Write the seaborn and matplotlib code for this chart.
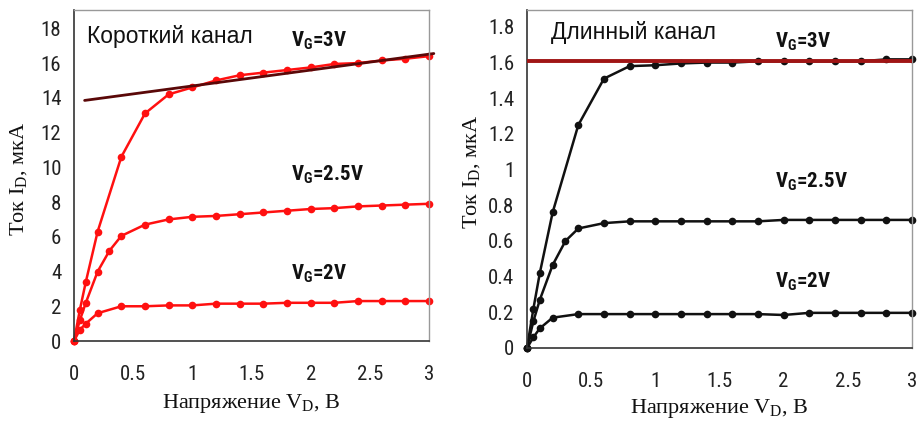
import matplotlib
matplotlib.use("Agg")
import matplotlib.pyplot as plt
import seaborn as sns
from matplotlib import font_manager

# Short channel data (x, I_D in uA)
vd_short_3 = [0, 0.05, 0.1, 0.2, 0.4, 0.6, 0.8, 1.0, 1.2, 1.4, 1.6, 1.8, 2.0, 2.2, 2.4, 2.6, 2.8, 3.0]
id_short_3 = [0, 1.8, 3.4, 6.3, 10.6, 13.1, 14.2, 14.6, 15.0, 15.3, 15.45, 15.6, 15.75, 15.95, 16.0, 16.15, 16.25, 16.4]
vd_short_25 = [0, 0.05, 0.1, 0.2, 0.3, 0.4, 0.6, 0.8, 1.0, 1.2, 1.4, 1.6, 1.8, 2.0, 2.2, 2.4, 2.6, 2.8, 3.0]
id_short_25 = [0, 1.2, 2.2, 4.0, 5.2, 6.05, 6.7, 7.0, 7.15, 7.2, 7.3, 7.4, 7.5, 7.6, 7.65, 7.75, 7.8, 7.85, 7.9]
vd_short_2 = [0, 0.05, 0.1, 0.2, 0.4, 0.6, 0.8, 1.0, 1.2, 1.4, 1.6, 1.8, 2.0, 2.2, 2.4, 2.6, 2.8, 3.0]
id_short_2 = [0, 0.65, 1.0, 1.6, 2.0, 2.0, 2.05, 2.05, 2.15, 2.15, 2.15, 2.2, 2.2, 2.2, 2.3, 2.3, 2.3, 2.3]
fit_short_x = [0.09, 3.04]
fit_short_y = [13.85, 16.55]

# Long channel data
vd_long_3 = [0, 0.05, 0.1, 0.2, 0.4, 0.6, 0.8, 1.0, 1.2, 1.4, 1.6, 1.8, 2.0, 2.2, 2.4, 2.6, 2.8, 3.0]
id_long_3 = [0, 0.22, 0.42, 0.76, 1.25, 1.51, 1.58, 1.585, 1.595, 1.6, 1.6, 1.607, 1.607, 1.607, 1.607, 1.607, 1.618, 1.618]
vd_long_25 = [0, 0.05, 0.1, 0.2, 0.3, 0.4, 0.6, 0.8, 1.0, 1.2, 1.4, 1.6, 1.8, 2.0, 2.2, 2.4, 2.6, 2.8, 3.0]
id_long_25 = [0, 0.15, 0.27, 0.465, 0.6, 0.67, 0.7, 0.71, 0.71, 0.71, 0.71, 0.71, 0.71, 0.718, 0.718, 0.718, 0.718, 0.718, 0.718]
vd_long_2 = [0, 0.05, 0.1, 0.2, 0.4, 0.6, 0.8, 1.0, 1.2, 1.4, 1.6, 1.8, 2.0, 2.2, 2.4, 2.6, 2.8, 3.0]
id_long_2 = [0, 0.06, 0.11, 0.17, 0.19, 0.19, 0.19, 0.19, 0.19, 0.19, 0.19, 0.19, 0.185, 0.197, 0.197, 0.197, 0.197, 0.197]
fit_long_x = [0, 3.0]
fit_long_y = [1.607, 1.607]

x_ticks = [0, 0.5, 1, 1.5, 2, 2.5, 3]
x_tick_labels = ["0", "0.5", "1", "1.5", "2", "2.5", "3"]
short_y_ticks = [0, 2, 4, 6, 8, 10, 12, 14, 16, 18]
long_y_ticks = [0, 0.2, 0.4, 0.6, 0.8, 1.0, 1.2, 1.4, 1.6, 1.8]
long_y_labels = ["0", "0.2", "0.4", "0.6", "0.8", "1", "1.2", "1.4", "1.6", "1.8"]

sns.set_theme(style="white")

# try to find a narrow sans font, fall back to Liberation Sans
names = {f.name for f in font_manager.fontManager.ttflist}
narrow = "Liberation Sans"
stretch = "normal"
for cand in ["Liberation Sans Narrow", "Roboto Condensed", "Open Sans Condensed",
             "Noto Sans Condensed", "DejaVu Sans Condensed"]:
    if cand in names:
        narrow = cand
        break
else:
    for f in font_manager.fontManager.ttflist:
        if f.name in ("DejaVu Sans", "Noto Sans", "Roboto", "Open Sans") and f.stretch in ("condensed", "semi-condensed"):
            narrow, stretch = f.name, f.stretch
            break

plt.rcParams["font.family"] = [narrow, "DejaVu Sans"]
plt.rcParams["font.stretch"] = stretch
plt.rcParams["mathtext.fontset"] = "custom"
plt.rcParams["mathtext.rm"] = "Liberation Serif"
plt.rcParams["mathtext.sf"] = narrow + ":bold"

serif = ["Liberation Serif", "DejaVu Serif"]
sans = ["Liberation Sans", "DejaVu Sans"]

fig = plt.figure(figsize=(9.2, 4.21), dpi=100)
ax1 = fig.add_axes([0.0804, 0.190, 0.386, 0.786])
ax2 = fig.add_axes([0.5728, 0.1734, 0.4185, 0.803])

line_kw = dict(marker="o", markersize=5.5, markeredgewidth=0, linewidth=1.8, clip_on=False)

red = "#ff1010"
for xs, ys in [(vd_short_3, id_short_3), (vd_short_25, id_short_25), (vd_short_2, id_short_2)]:
    sns.lineplot(x=xs, y=ys, ax=ax1, color=red, **line_kw)
sns.lineplot(x=fit_short_x, y=fit_short_y, ax=ax1, color="#5a0808", linewidth=2.0, clip_on=False)

black = "#111111"
for xs, ys in [(vd_long_3, id_long_3), (vd_long_25, id_long_25), (vd_long_2, id_long_2)]:
    sns.lineplot(x=xs, y=ys, ax=ax2, color=black, **line_kw)
sns.lineplot(x=fit_long_x, y=fit_long_y, ax=ax2, color="#a01515", linewidth=2.8, zorder=3)

for ax, ymax, yt, ylbl in [(ax1, 19.05, short_y_ticks, [str(v) for v in short_y_ticks]),
                           (ax2, 1.895, long_y_ticks, long_y_labels)]:
    ax.set_xlim(0, 3)
    ax.set_ylim(0, ymax)
    ax.set_xticks(x_ticks)
    ax.set_xticklabels(x_tick_labels)
    ax.set_yticks(yt)
    ax.set_yticklabels(ylbl)
    ax.tick_params(axis="both", direction="in", length=5, width=1, colors="#333333",
                   labelsize=15, labelcolor="#222222")
    ax.tick_params(axis="x", pad=17)
    ax.tick_params(axis="y", pad=9)
    for side in ["left", "bottom"]:
        ax.spines[side].set_color("#333333")
        ax.spines[side].set_linewidth(1.2)
    for side in ["top", "right"]:
        ax.spines[side].set_color("#999999")
        ax.spines[side].set_linewidth(1.0)
    ax.set_xlabel("Напряжение V$_\\mathrm{D}$, B", fontsize=16, family=serif, color="#111111")
    ax.set_ylabel("Ток I$_\\mathrm{D}$, мкА", fontsize=16, family=serif, color="#111111")
    ax.xaxis.label.set_va("center")
    ax.yaxis.label.set_va("center")

ax1.xaxis.set_label_coords(0.5, -0.19)
ax1.yaxis.set_label_coords(-0.155, 0.49)
ax2.xaxis.set_label_coords(0.5, -0.18)
ax2.yaxis.set_label_coords(-0.143, 0.52)

ax1.text(0.11, 17.55, "Короткий канал", fontsize=16.5, family=sans, stretch="normal",
         va="center", color="#111111")
ax2.text(0.185, 1.767, "Длинный канал", fontsize=16.5, family=sans, stretch="normal",
         va="center", color="#111111")

vg_kw = dict(fontsize=15, fontweight="bold", va="center", ha="left", color="#111111")
ax1.text(1.83, 17.3, "V$_\\mathsf{G}$=3V", **vg_kw)
ax1.text(1.83, 9.55, "V$_\\mathsf{G}$=2.5V", **vg_kw)
ax1.text(1.83, 3.86, "V$_\\mathsf{G}$=2V", **vg_kw)
ax2.text(1.93, 1.718, "V$_\\mathsf{G}$=3V", **vg_kw)
ax2.text(1.93, 0.933, "V$_\\mathsf{G}$=2.5V", **vg_kw)
ax2.text(1.93, 0.372, "V$_\\mathsf{G}$=2V", **vg_kw)

fig.savefig("out.png", dpi=100)
